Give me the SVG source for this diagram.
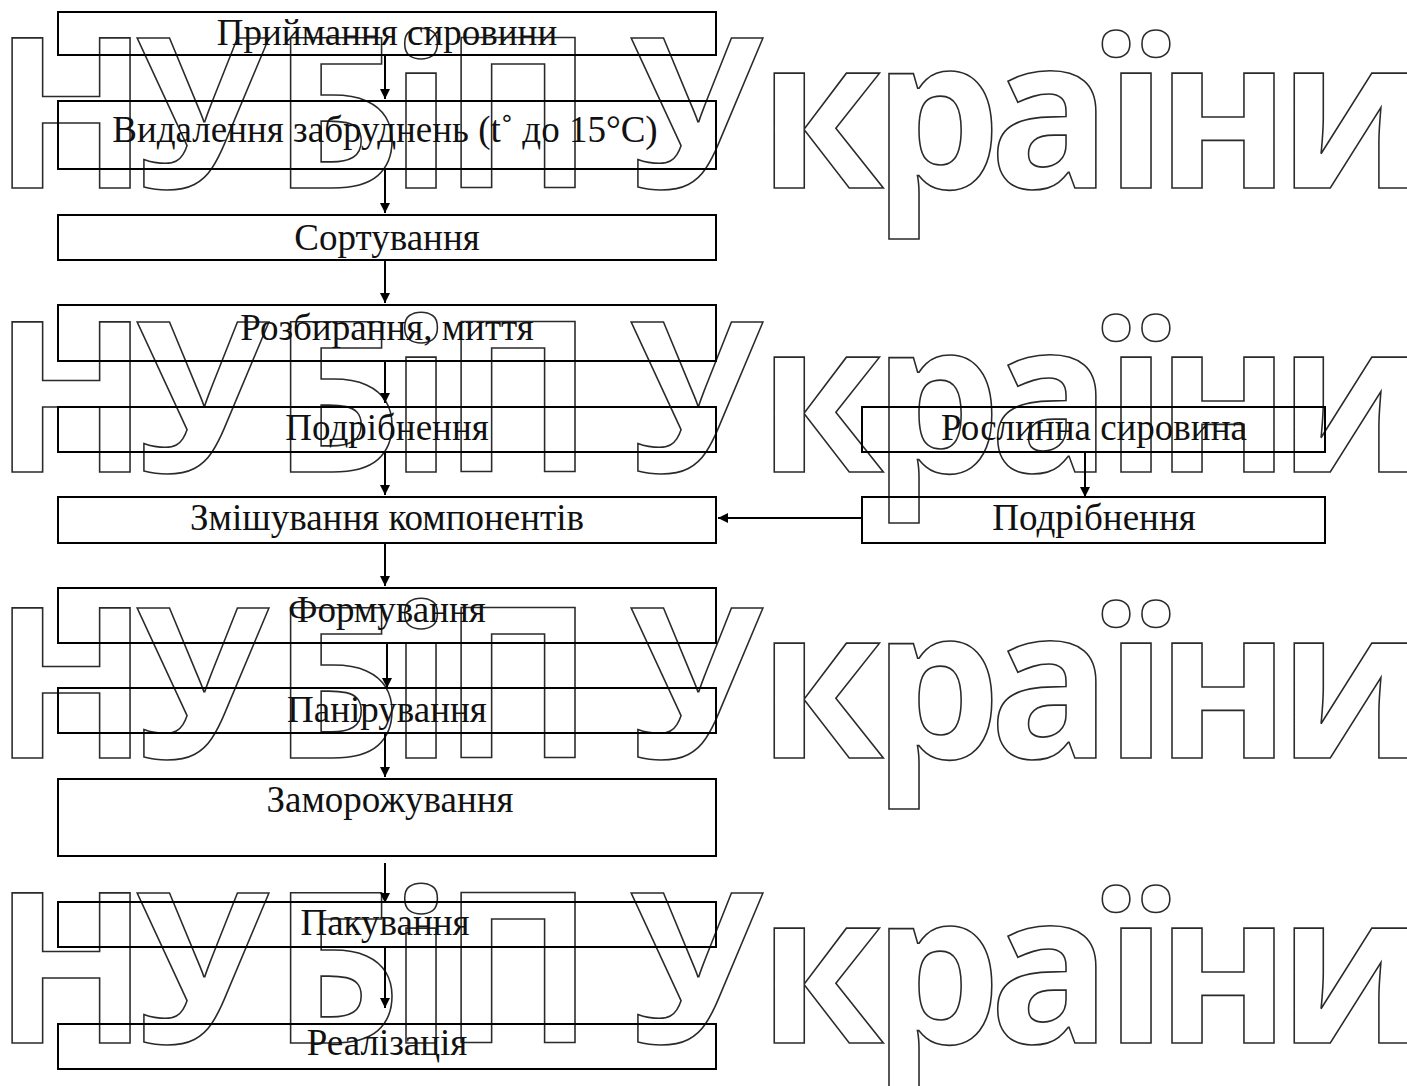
<svg xmlns="http://www.w3.org/2000/svg" width="1407" height="1086" viewBox="0 0 1407 1086">
<style>
.bg{fill:#fff}
.box{fill:none;stroke:#000;stroke-width:2}
.lbl{font-family:"Liberation Serif","Times New Roman",serif;font-size:37px;fill:#111;text-anchor:middle}
.wm{font-family:"Open Sans","Noto Sans",sans-serif;font-weight:700;font-size:210px;fill:none;stroke:#2a2a2a;stroke-width:1.6;text-anchor:middle;vector-effect:non-scaling-stroke}
.con{stroke:#000;stroke-width:2;fill:none}
</style>
<defs>
<marker id="ah" viewBox="0 0 10 10" refX="10" refY="5" markerWidth="5" markerHeight="6" markerUnits="strokeWidth" orient="auto">
<path d="M0,0 L10,5 L0,10 z" fill="#000"/>
</marker>
</defs>
<rect class="bg" x="0" y="0" width="1407" height="1086"/>
<g id="watermark" transform="scale(0.96,1)">
<text class="wm" x="74 210.4 351 438.5 539.6 725 855.2 976 1093.8 1183.3 1274 1407.3" y="188">НУБіПУкраїни</text>
<text class="wm" x="74 210.4 351 438.5 539.6 725 855.2 976 1093.8 1183.3 1274 1407.3" y="472">НУБіПУкраїни</text>
<text class="wm" x="74 210.4 351 438.5 539.6 725 855.2 976 1093.8 1183.3 1274 1407.3" y="758">НУБіПУкраїни</text>
<text class="wm" x="74 210.4 351 438.5 539.6 725 855.2 976 1093.8 1183.3 1274 1407.3" y="1043">НУБіПУкраїни</text>
</g>
<g id="n1"><rect class="box" x="58" y="12" width="658" height="43"/><text class="lbl" x="387" y="45">Приймання сировини</text></g>
<g id="n2"><rect class="box" x="58" y="101" width="658" height="68"/><text class="lbl" x="385" y="142">Видалення забруднень (t˚ до 15°C)</text></g>
<g id="n3"><rect class="box" x="58" y="215" width="658" height="45"/><text class="lbl" x="387" y="250">Сортування</text></g>
<g id="n4"><rect class="box" x="58" y="305" width="658" height="56"/><text class="lbl" x="387" y="340">Розбирання, миття</text></g>
<g id="n5"><rect class="box" x="58" y="407" width="658" height="45"/><text class="lbl" x="387" y="440">Подрібнення</text></g>
<g id="n6"><rect class="box" x="58" y="497" width="658" height="46"/><text class="lbl" x="387" y="530">Змішування компонентів</text></g>
<g id="n7"><rect class="box" x="58" y="588" width="658" height="55"/><text class="lbl" x="387" y="622">Формування</text></g>
<g id="n8"><rect class="box" x="58" y="688" width="658" height="45"/><text class="lbl" x="387" y="722">Панірування</text></g>
<g id="n9"><rect class="box" x="58" y="779" width="658" height="77"/><text class="lbl" x="390" y="812">Заморожування</text></g>
<g id="n10"><rect class="box" x="58" y="902" width="658" height="45"/><text class="lbl" x="385" y="935">Пакування</text></g>
<g id="n11"><rect class="box" x="58" y="1024" width="658" height="45"/><text class="lbl" x="387" y="1055">Реалізація</text></g>
<g id="r1"><rect class="box" x="862" y="407" width="463" height="45"/><text class="lbl" x="1094" y="440">Рослинна сировина</text></g>
<g id="r2"><rect class="box" x="862" y="497" width="463" height="46"/><text class="lbl" x="1094" y="530">Подрібнення</text></g>
<g id="connectors">
<line class="con" x1="385" y1="55" x2="385" y2="99" marker-end="url(#ah)"/>
<line class="con" x1="385" y1="169" x2="385" y2="213" marker-end="url(#ah)"/>
<line class="con" x1="385" y1="260" x2="385" y2="303" marker-end="url(#ah)"/>
<line class="con" x1="385" y1="361" x2="385" y2="403" marker-end="url(#ah)"/>
<line class="con" x1="385" y1="452" x2="385" y2="495" marker-end="url(#ah)"/>
<line class="con" x1="385" y1="543" x2="385" y2="586" marker-end="url(#ah)"/>
<line class="con" x1="387" y1="643" x2="387" y2="688" marker-end="url(#ah)"/>
<line class="con" x1="385" y1="733" x2="385" y2="777" marker-end="url(#ah)"/>
<line class="con" x1="385" y1="863" x2="385" y2="903" marker-end="url(#ah)"/>
<line class="con" x1="385" y1="947" x2="385" y2="1008" marker-end="url(#ah)"/>
<line class="con" x1="1085" y1="452" x2="1085" y2="497" marker-end="url(#ah)"/>
<line class="con" x1="862" y1="518" x2="718" y2="518" marker-end="url(#ah)"/>
</g>
</svg>
